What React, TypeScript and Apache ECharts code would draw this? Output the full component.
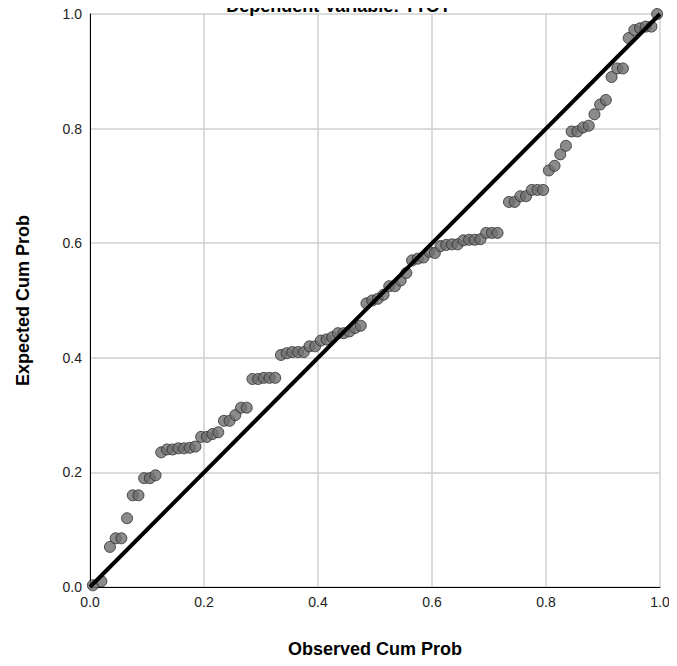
import { useEffect, useRef } from 'react';
import * as echarts from 'echarts';

const observed = [0.005, 0.02, 0.035, 0.045, 0.055, 0.065, 0.075, 0.085, 0.095, 0.105, 0.115, 0.125, 0.135, 0.145, 0.155, 0.165, 0.175, 0.185, 0.195, 0.205, 0.215, 0.225, 0.235, 0.245, 0.255, 0.265, 0.275, 0.285, 0.295, 0.305, 0.315, 0.325, 0.335, 0.345, 0.355, 0.365, 0.375, 0.385, 0.395, 0.405, 0.415, 0.425, 0.435, 0.445, 0.455, 0.465, 0.475, 0.485, 0.495, 0.505, 0.515, 0.525, 0.535, 0.545, 0.555, 0.565, 0.575, 0.585, 0.595, 0.605, 0.615, 0.625, 0.635, 0.645, 0.655, 0.665, 0.675, 0.685, 0.695, 0.705, 0.715, 0.735, 0.745, 0.755, 0.765, 0.775, 0.785, 0.795, 0.805, 0.815, 0.825, 0.835, 0.845, 0.855, 0.865, 0.875, 0.885, 0.895, 0.905, 0.915, 0.925, 0.935, 0.945, 0.955, 0.965, 0.975, 0.985, 0.995];
const expected = [0.003, 0.01, 0.07, 0.085, 0.085, 0.12, 0.16, 0.16, 0.19, 0.19, 0.195, 0.235, 0.24, 0.24, 0.242, 0.242, 0.243, 0.245, 0.262, 0.262, 0.267, 0.27, 0.29, 0.29, 0.3, 0.313, 0.313, 0.363, 0.363, 0.365, 0.365, 0.365, 0.405, 0.408, 0.41, 0.41, 0.41, 0.42, 0.42, 0.43, 0.432, 0.436, 0.443, 0.443, 0.446, 0.452, 0.456, 0.495, 0.5, 0.503, 0.51, 0.525, 0.525, 0.535, 0.548, 0.57, 0.573, 0.575, 0.585, 0.583, 0.595, 0.597, 0.598, 0.598, 0.605, 0.606, 0.606, 0.607, 0.618, 0.618, 0.618, 0.672, 0.672, 0.682, 0.682, 0.693, 0.693, 0.693, 0.727, 0.735, 0.755, 0.77, 0.795, 0.795, 0.802, 0.805, 0.825, 0.842, 0.85, 0.89, 0.905, 0.905, 0.958, 0.972, 0.975, 0.978, 0.978, 1.0];
const diagonal = [[0, 0], [1, 1]];

export default function App() {
  const chartRef = useRef<HTMLDivElement>(null);

  useEffect(() => {
    if (!chartRef.current) return;
    const chart = echarts.init(chartRef.current, undefined, { renderer: 'svg' });

    const axisCommon = {
      type: 'value' as const,
      min: 0,
      max: 1,
      interval: 0.2,
      nameLocation: 'middle' as const,
      nameTextStyle: { color: '#000', fontSize: 18, fontWeight: 'bold' as const, fontFamily: 'Liberation Sans, Arial' },
      axisLabel: { color: '#222', fontSize: 14, fontFamily: 'Liberation Sans, Arial', formatter: (v: number) => v.toFixed(1) },
      axisLine: { show: true, lineStyle: { color: '#000', width: 1 } },
      axisTick: { show: false },
      splitLine: { show: true, lineStyle: { color: '#cfcfcf', width: 1.5 } },
    };

    chart.setOption({
      animation: false,
      title: {
        text: 'Dependent Variable: TTOT',
        left: 'center',
        top: -16,
        textStyle: { color: '#000', fontSize: 18, fontWeight: 'bold', fontFamily: 'Liberation Sans, Arial' },
      },
      grid: { left: 82, right: 9, top: 6, bottom: 71, outerBoundsMode: 'none' },
      xAxis: { ...axisCommon, name: 'Observed Cum Prob', nameGap: 53 },
      yAxis: { ...axisCommon, name: 'Expected Cum Prob', nameGap: 58 },
      series: [
        {
          type: 'line',
          data: diagonal,
          symbol: 'none',
          lineStyle: { color: '#000', width: 4 },
          z: 3,
        },
        {
          type: 'scatter',
          data: observed.map((x, i) => [x, expected[i]]),
          symbolSize: 11,
          itemStyle: { color: '#6e6e6e', borderColor: '#2a2a2a', borderWidth: 1 },
          z: 2,
        },
      ],
    });

    return () => chart.dispose();
  }, []);

  return <div ref={chartRef} style={{ width: 661, height: 650 }} />;
}
